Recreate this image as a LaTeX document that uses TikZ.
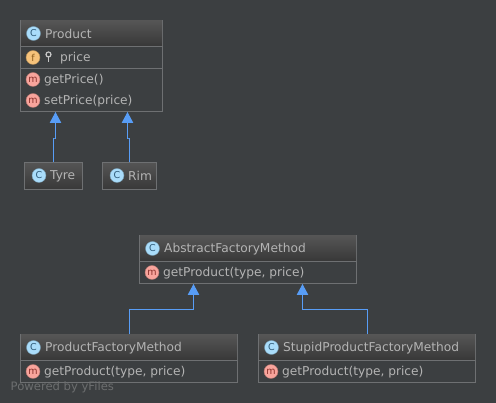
\documentclass[tikz,border=0pt]{standalone}
\usepackage{fontspec}
\setmainfont{DejaVu Sans}
\usepackage{tikz}
\usetikzlibrary{arrows.meta}
\definecolor{bgdark}{HTML}{3C3F41}
\definecolor{boxline}{HTML}{6E7072}
\definecolor{headtop}{HTML}{555555}
\definecolor{headbot}{HTML}{383838}
\definecolor{txtgray}{HTML}{B4B4B4}
\definecolor{arrowblue}{HTML}{589DF6}
\definecolor{iconc}{HTML}{A9DCFA}
\definecolor{iconf}{HTML}{F6C27A}
\definecolor{iconm}{HTML}{F8A49C}
\definecolor{lettc}{HTML}{2E5A78}
\definecolor{lettf}{HTML}{8A5A1A}
\definecolor{lettm}{HTML}{8A2F2A}
\tikzset{
  umlbox/.style={draw=boxline,line width=0.9pt,inner sep=0pt,outer sep=0pt,anchor=north west},
  headbox/.style={umlbox,top color=headtop,bottom color=headbot},
  divider/.style={draw=boxline,line width=0.9pt},
  label/.style={text=txtgray,font=\fontsize{12.2}{14}\selectfont,anchor=west,inner sep=0pt},
  iconc/.style={circle,draw=iconc!70!black,line width=0.4pt,fill=iconc,text=lettc,minimum size=14pt,inner sep=0pt,font=\fontsize{9.5}{9.5}\selectfont},
  iconf/.style={iconc,draw=iconf!70!black,fill=iconf,text=lettf},
  iconm/.style={iconc,draw=iconm!70!black,fill=iconm,text=lettm},
  extends/.style={draw=arrowblue,line width=0.9pt,-{Triangle[length=11pt,width=11.5pt,fill=arrowblue]}},
}
\begin{document}
\begin{tikzpicture}[x=1pt,y=-1pt]
\useasboundingbox[fill=bgdark] (0,0) rectangle (496,403);
% upper class group
\node[umlbox,minimum width=142pt,minimum height=91pt] (product) at (20.5,20.5) {};
\path[top color=headtop,bottom color=headbot] (21,21) rectangle (162,46);
\draw[divider] (20.5,46) -- (162.5,46);
\draw[divider] (20.5,68.5) -- (162.5,68.5);
\node[iconc] (ic1) at (33.5,33.5) {C};
\node[label] (t1) at (45,34) {Product};
\node[iconf] (if1) at (33,57.5) {f};
\draw[txtgray!75,line width=1.8pt] (48.5,55) -- (48.5,62.5);
\node[circle,draw=txtgray!75,fill=bgdark,line width=1.2pt,minimum size=5pt,inner sep=0pt] (key1) at (48.5,54.5) {};
\node[label] (t2) at (60,58) {price};
\node[iconm] (im1) at (33,79.5) {m};
\node[label] (t3) at (44,80) {getPrice()};
\node[iconm] (im2) at (33,100.5) {m};
\node[label] (t4) at (44,101) {setPrice(price)};
\node[headbox,minimum width=58pt,minimum height=27pt] (tyre) at (24.5,162.5) {};
\node[iconc] (ic2) at (39,175.5) {C};
\node[label] (t5) at (50,176) {Tyre};
\node[headbox,minimum width=54pt,minimum height=27pt] (rim) at (102.5,162.5) {};
\node[iconc] (ic3) at (117,175.5) {C};
\node[label] (t6) at (128,176) {Rim};
\coordinate (productL) at (55.5,112);
\coordinate (productR) at (127.5,112);
\draw[extends] (tyre.north) |- (54.5,138) -- (55.5,138) -- (productL);
\draw[extends] (rim.north) |- (128,138) -- (127.5,138) -- (productR);
% lower class group
\node[umlbox,minimum width=217pt,minimum height=48pt] (abstract) at (139.5,235.5) {};
\path[top color=headtop,bottom color=headbot] (140,236) rectangle (356,261);
\draw[divider] (139.5,261.5) -- (356.5,261.5);
\node[iconc] (ic4) at (152.5,248.5) {C};
\node[label] (t7) at (164,249) {AbstractFactoryMethod};
\node[iconm] (im3) at (152,272.5) {m};
\node[label] (t8) at (163,273) {getProduct(type, price)};
\node[umlbox,minimum width=217pt,minimum height=48pt] (pfm) at (20.5,334.5) {};
\path[top color=headtop,bottom color=headbot] (21,335) rectangle (237,360);
\draw[divider] (20.5,360.5) -- (237.5,360.5);
\node[iconc] (ic5) at (33.5,347.5) {C};
\node[label] (t9) at (45,348) {ProductFactoryMethod};
\node[iconm] (im4) at (33,371.5) {m};
\node[label] (t10) at (44,372) {getProduct(type, price)};
\node[umlbox,minimum width=217pt,minimum height=48pt] (spfm) at (258.5,334.5) {};
\path[top color=headtop,bottom color=headbot] (259,335) rectangle (475,360);
\draw[divider] (258.5,360.5) -- (475.5,360.5);
\node[iconc] (ic6) at (271.5,347.5) {C};
\node[label] (t11) at (283,348) {StupidProductFactoryMethod};
\node[iconm] (im5) at (271,371.5) {m};
\node[label] (t12) at (282,372) {getProduct(type, price)};
\coordinate (abstractL) at (193.5,284);
\coordinate (abstractR) at (302.5,284);
\draw[extends] (pfm.north) |- (193.5,309) -- (abstractL);
\draw[extends] (spfm.north) |- (302.5,309) -- (abstractR);
\node[label,text=txtgray!40!bgdark,font=\fontsize{11.6}{14}\selectfont] (yfiles) at (10.5,387) {Powered by yFiles};
\end{tikzpicture}
\end{document}
